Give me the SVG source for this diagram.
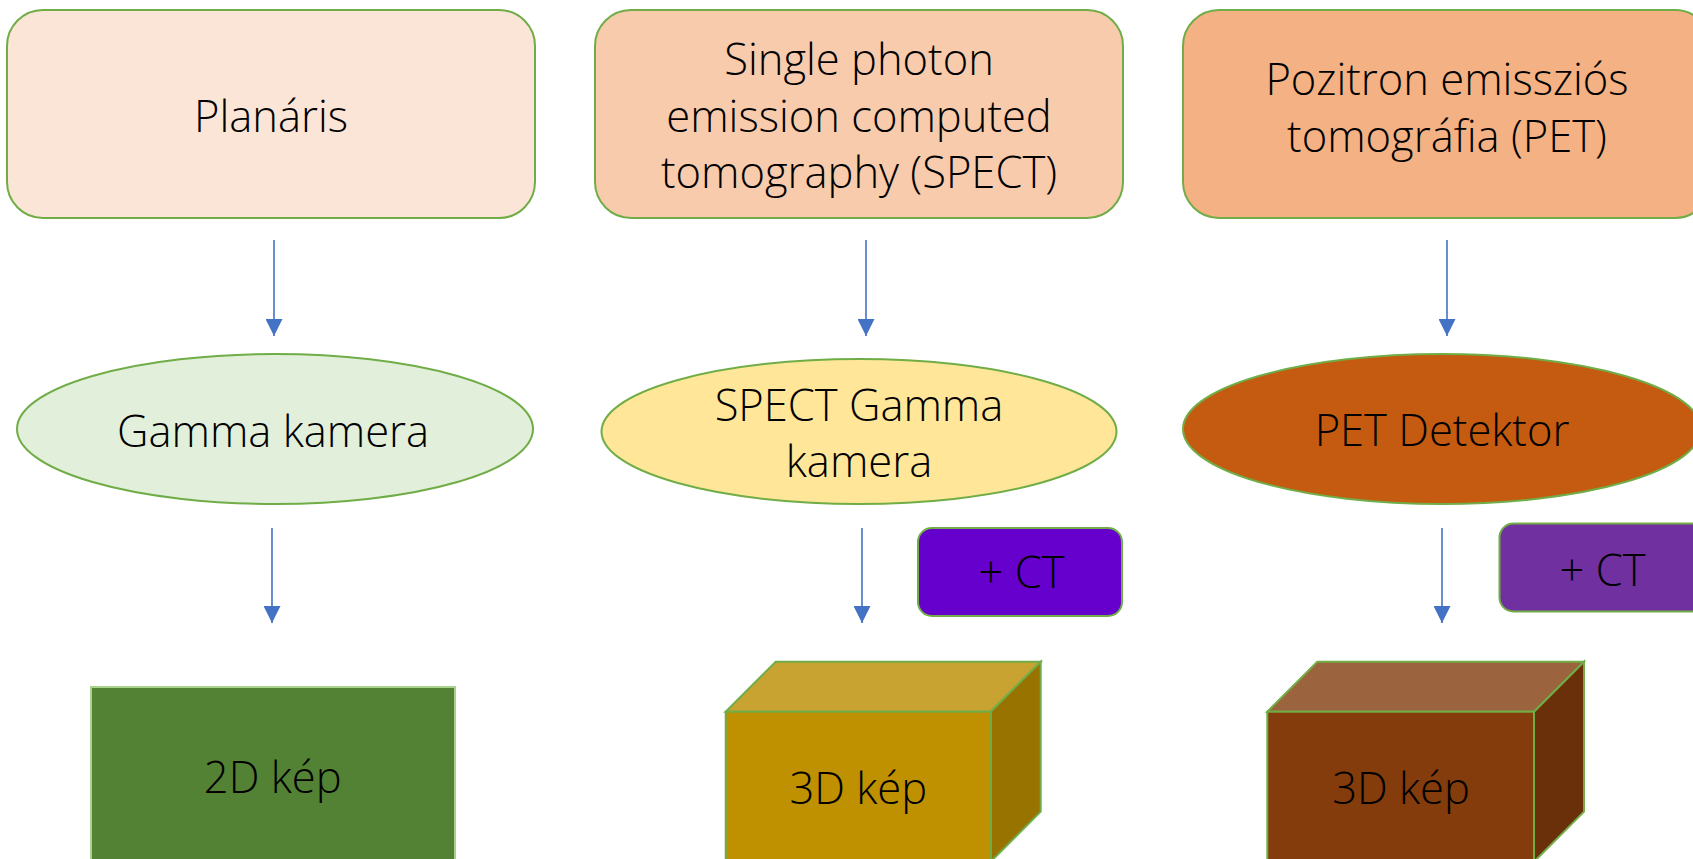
<svg xmlns="http://www.w3.org/2000/svg" width="1693" height="859" viewBox="0 0 1693 859">
<style>
  text { font-family: "Open Sans", "Noto Sans", "Liberation Sans", sans-serif; font-size: 43.5px; font-weight: 350; fill: #000; text-anchor: middle; }
  .nodeStroke { stroke: #70AD47; stroke-width: 2; }
  .conn { stroke: #4472C4; stroke-width: 1.6; fill: none; marker-end: url(#arr); }
</style>
<defs>
  <marker id="arr" markerUnits="userSpaceOnUse" markerWidth="17" markerHeight="17" refX="16" refY="8" orient="auto" viewBox="0 0 16 16">
    <path d="M0,0 L16,8 L0,16 z" fill="#4472C4"/>
  </marker>
</defs>
<rect width="1693" height="859" fill="#FFFFFF"/>

<g id="connectors">
  <line class="conn" x1="274" y1="240" x2="274" y2="336"/>
  <line class="conn" x1="866" y1="240" x2="866" y2="336"/>
  <line class="conn" x1="1447" y1="240" x2="1447" y2="336"/>
  <line class="conn" x1="272" y1="528" x2="272" y2="623"/>
  <line class="conn" x1="862" y1="528" x2="862" y2="623"/>
  <line class="conn" x1="1442" y1="528" x2="1442" y2="623"/>
</g>

<g id="planaris">
  <rect class="nodeStroke" x="7" y="10" width="528" height="208" rx="36" fill="#FBE5D6"/>
  <text x="271" y="131.7">Planáris</text>
</g>
<g id="spect">
  <rect class="nodeStroke" x="595" y="10" width="528" height="208" rx="36" fill="#F8CBAD"/>
  <text x="859" y="75">Single photon</text>
  <text x="859" y="131.7">emission computed</text>
  <text x="859" y="188">tomography (SPECT)</text>
</g>
<g id="pet">
  <rect class="nodeStroke" x="1183" y="10" width="528" height="208" rx="36" fill="#F4B183"/>
  <text x="1447" y="95">Pozitron emissziós</text>
  <text x="1447" y="151.7">tomográfia (PET)</text>
</g>

<g id="gamma-kamera">
  <ellipse class="nodeStroke" cx="275" cy="429" rx="258" ry="75" fill="#E2EFDA"/>
  <text x="273" y="447">Gamma kamera</text>
</g>
<g id="spect-gamma-kamera">
  <ellipse class="nodeStroke" cx="859" cy="431.5" rx="257.5" ry="72.5" fill="#FFE699"/>
  <text x="859" y="420.7">SPECT Gamma</text>
  <text x="859" y="477.3">kamera</text>
</g>
<g id="pet-detektor">
  <ellipse class="nodeStroke" cx="1442" cy="429" rx="259" ry="75" fill="#C55A11"/>
  <text x="1442" y="446">PET Detektor</text>
</g>

<g id="ct-spect">
  <rect class="nodeStroke" x="918" y="528" width="204" height="88" rx="14" fill="#6600CC"/>
  <text x="1021.5" y="588.3">+ CT</text>
</g>
<g id="ct-pet">
  <rect class="nodeStroke" x="1499.5" y="523.5" width="206" height="88" rx="14" fill="#7030A0"/>
  <text x="1602.5" y="586">+ CT</text>
</g>

<g id="kep-2d">
  <rect x="91" y="687" width="364" height="190" fill="#548235" stroke="#A9D18E" stroke-width="2"/>
  <text x="272.7" y="793">2D kép</text>
</g>
<g id="kep-3d-spect">
  <polygon class="nodeStroke" points="725.7,711.7 775.7,661.7 1040.7,661.7 990.7,711.7" fill="#C9A332"/>
  <polygon class="nodeStroke" points="990.7,711.7 1040.7,661.7 1040.7,811.7 990.7,861.7" fill="#997300"/>
  <rect class="nodeStroke" x="725.7" y="711.7" width="265" height="170" fill="#BF9000"/>
  <text x="858.3" y="804">3D kép</text>
</g>
<g id="kep-3d-pet">
  <polygon class="nodeStroke" points="1267.3,711.7 1317.3,661.7 1584,661.7 1534,711.7" fill="#9B633E"/>
  <polygon class="nodeStroke" points="1534,711.7 1584,661.7 1584,811.7 1534,861.7" fill="#6A300A"/>
  <rect class="nodeStroke" x="1267.3" y="711.7" width="266.7" height="170" fill="#843C0C"/>
  <text x="1401" y="804">3D kép</text>
</g>
</svg>
